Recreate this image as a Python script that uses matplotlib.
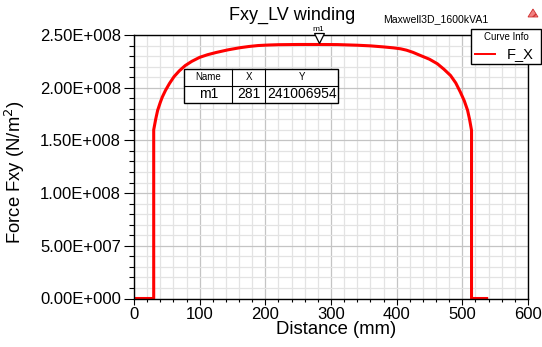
import numpy as np
import matplotlib
matplotlib.use("Agg")
import matplotlib.pyplot as plt
from matplotlib.ticker import MultipleLocator, FixedLocator, FixedFormatter
from matplotlib.patches import Rectangle, Polygon
from matplotlib.lines import Line2D

plt.rcParams['font.family'] = ['Liberation Sans', 'DejaVu Sans']

# ---- data (distance in mm, force in N/m^2 given in units of 1e6) ----
distance = [0, 30, 30, 33, 36, 40, 43, 48, 54, 61, 69, 78, 88, 100, 112, 125,
            143, 161, 175, 189, 205, 220, 250, 281, 310, 340, 360, 380, 395,
            406, 415, 425, 436, 450, 462, 472, 482, 490, 497, 503, 508, 511,
            514, 514, 537]
force_1e6 = [0, 0, 160, 170, 178.5, 186, 191, 197.5, 204, 210.5, 216, 221,
             225, 228.8, 231.3, 233.4, 235.9, 237.9, 239.1, 240, 240.5, 240.8,
             241.0, 241.006954, 240.9, 240.3, 239.7, 238.7, 237.8, 236.9,
             235.6, 233.5, 230.6, 227, 222.7, 217.5, 211.6, 204.5, 195.8,
             187.5, 178.5, 170, 159.6, 0, 0]
force = [v * 1e6 for v in force_1e6]

xticks = [0, 100, 200, 300, 400, 500, 600]
xtick_labels = ["0", "100", "200", "300", "400", "500", "600"]
yticks = [0, 5e7, 1e8, 1.5e8, 2e8, 2.5e8]
ytick_labels = ["0.00E+000", "5.00E+007", "1.00E+008", "1.50E+008",
                "2.00E+008", "2.50E+008"]

marker_name = "m1"
marker_x = 281
marker_y = 241006954
series_name = "F_X"
title = "Fxy_LV winding"
project = "Maxwell3D_1600kVA1"

W, H = 542, 347
fig = plt.figure(figsize=(W / 100, H / 100), dpi=100)
fig.patch.set_facecolor("white")


def fx(px):
    return px / W


def fy(py):
    return 1 - py / H


ax = fig.add_axes([fx(134), fy(298.5), 394 / W, 263.5 / H])
ax.set_xlim(0, 600)
ax.set_ylim(0, 2.5e8)

ax.xaxis.set_major_locator(FixedLocator(xticks))
ax.xaxis.set_major_formatter(FixedFormatter(xtick_labels))
ax.yaxis.set_major_locator(FixedLocator(yticks))
ax.yaxis.set_major_formatter(FixedFormatter(ytick_labels))
ax.xaxis.set_minor_locator(MultipleLocator(20))
ax.yaxis.set_minor_locator(MultipleLocator(1e7))

ax.grid(which="minor", color="#e3e3e3", lw=0.9)
ax.grid(which="major", color="#c4c4c4", lw=0.9)
ax.set_axisbelow(True)

ax.tick_params(axis="y", which="major", length=7.5, width=0.8, pad=2,
               labelsize=12, direction="out")
ax.tick_params(axis="y", which="minor", length=3.6, width=0.8, direction="out")
ax.tick_params(axis="x", which="major", length=4, width=0.8, pad=2,
               labelsize=12, direction="out")
ax.tick_params(axis="x", which="minor", length=2.5, width=0.8, direction="out")

for s in ax.spines.values():
    s.set_linewidth(1.0)
    s.set_color("black")

ax.plot(distance, force, color="#ff0000", lw=2.2, solid_joinstyle="round", zorder=2)

ax.set_xlabel("Distance (mm)", fontsize=13.3)
ax.xaxis.set_label_coords(0.513, -0.085)
ax.set_ylabel("Force Fxy (N/m$^2$)", fontsize=13.3)
ax.yaxis.set_label_coords(-0.272, 0.48)

# marker m1
ax.plot([marker_x], [2.5e8 - 3.2 * 2.5e8 / 263.5], marker="v", markersize=6.5,
        markerfacecolor="white", markeredgecolor="black", markeredgewidth=0.9,
        clip_on=False, zorder=5)
ax.annotate(marker_name, (marker_x, 2.5e8), xytext=(0, 1.5), textcoords="offset points",
            ha="center", va="bottom", fontsize=6, annotation_clip=False)

# title and project name
fig.text(fx(292), fy(20), title, ha="center", va="baseline", fontsize=13)
fig.text(fx(383), fy(22), project, ha="left", va="baseline", fontsize=7.6)

# logo
logo = Polygon([[fx(528), fy(17)], [fx(538), fy(17)], [fx(533), fy(9)]],
               closed=True, transform=fig.transFigure, facecolor="#f08080",
               edgecolor="#d03030", lw=0.6, hatch="////")
fig.add_artist(logo)

# legend box (Curve Info)
lg = Rectangle((fx(470.7), fy(64)), (541 - 470.7) / W, (64 - 29.3) / H,
               transform=fig.transFigure, facecolor="white", edgecolor="black",
               lw=1.0, zorder=10)
fig.add_artist(lg)
fig.text(fx(506), fy(37.5), "Curve Info", ha="center", va="center", fontsize=7,
         zorder=11)
fig.add_artist(Line2D([fx(475), fx(495)], [fy(54.3), fy(54.3)], color="#ff0000",
                      lw=1.4, transform=fig.transFigure, zorder=11))
fig.text(fx(506.5), fy(54.5), series_name, ha="left", va="center", fontsize=10.5,
         zorder=11)

# marker table
tl, tr, tt, tm, tb = 184.3, 338.3, 69.3, 85.7, 103.3
c1, c2 = 232.3, 265
tab = Rectangle((fx(tl), fy(tb)), (tr - tl) / W, (tb - tt) / H,
                transform=fig.transFigure, facecolor="white", edgecolor="black",
                lw=1.0, zorder=10)
fig.add_artist(tab)
for (x0, y0, x1, y1) in [(tl, tm, tr, tm), (c1, tt, c1, tb), (c2, tt, c2, tb)]:
    fig.add_artist(Line2D([fx(x0), fx(x1)], [fy(y0), fy(y1)], color="black",
                          lw=0.8, transform=fig.transFigure, zorder=11))
hy = (tt + tm) / 2
ry = (tm + tb) / 2
fig.text(fx((tl + c1) / 2), fy(hy), "Name", ha="center", va="center", fontsize=7, zorder=12)
fig.text(fx((c1 + c2) / 2), fy(hy), "X", ha="center", va="center", fontsize=7, zorder=12)
fig.text(fx((c2 + tr) / 2), fy(hy), "Y", ha="center", va="center", fontsize=7, zorder=12)
fig.text(fx((tl + c1) / 2), fy(ry), marker_name, ha="center", va="center", fontsize=10, zorder=12)
fig.text(fx((c1 + c2) / 2), fy(ry), str(marker_x), ha="center", va="center", fontsize=10, zorder=12)
fig.text(fx((c2 + tr) / 2), fy(ry), str(marker_y), ha="center", va="center", fontsize=10, zorder=12)

fig.savefig("out.png", dpi=100)
